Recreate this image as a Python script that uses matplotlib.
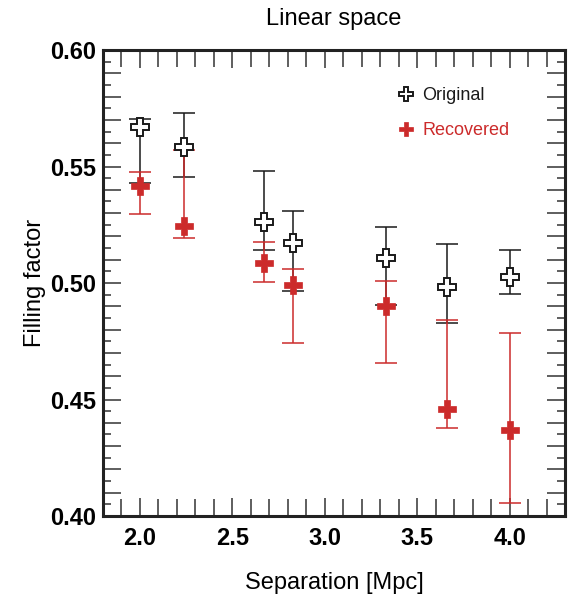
import numpy as np
import matplotlib
matplotlib.use('Agg')
from matplotlib import pyplot as plt
from matplotlib.ticker import MultipleLocator, FuncFormatter

plt.rcParams['font.family'] = ['Liberation Sans', 'DejaVu Sans']

# separations of the seven samples
separation = [2.0, 2.24, 2.67, 2.83, 3.33, 3.66, 4.0]

# original filling factor with lower / upper bar ends
orig_val = [0.567, 0.5585, 0.5263, 0.517, 0.5109, 0.4984, 0.5027]
orig_low = [0.543, 0.5454, 0.5142, 0.4966, 0.4906, 0.4830, 0.4951]
orig_high = [0.5704, 0.5731, 0.5482, 0.5310, 0.5242, 0.5166, 0.5140]

# recovered filling factor with lower / upper bar ends
rec_val = [0.5416, 0.5245, 0.5085, 0.4991, 0.4901, 0.4458, 0.4369]
rec_low = [0.5295, 0.5192, 0.5006, 0.4741, 0.4655, 0.4376, 0.4057]
rec_high = [0.5476, 0.5570, 0.5175, 0.5059, 0.5007, 0.4841, 0.4787]

red = '#cc2b2b'
black = '#1a1a1a'

fig = plt.figure(figsize=(5.75, 6.01), dpi=100)
ax = fig.add_axes([0.179, 0.1414, 0.804, 0.7754])

x = np.array(separation)
ov, ol, oh = np.array(orig_val), np.array(orig_low), np.array(orig_high)
rv, rl, rh = np.array(rec_val), np.array(rec_low), np.array(rec_high)

ax.errorbar(x, ov, yerr=[ov - ol, oh - ov], fmt='none', ecolor=black,
            elinewidth=1.1, capsize=8, capthick=1.1, zorder=2)
ax.errorbar(x, rv, yerr=[rv - rl, rh - rv], fmt='none', ecolor=red,
            elinewidth=1.1, capsize=8, capthick=1.1, zorder=3)

ax.plot(x, rv, ls='none', marker='P', ms=12.5, mfc=red, mec=red, mew=0.5,
        color=red, zorder=4, label='Recovered')
ax.plot(x, ov, ls='none', marker='P', ms=12.5, mfc='white', mec=black, mew=1.4,
        color=black, zorder=5, label='Original')

ax.set_xlim(1.8, 4.3)
ax.set_ylim(0.40, 0.60)

ax.xaxis.set_major_locator(MultipleLocator(0.5))
ax.xaxis.set_minor_locator(MultipleLocator(0.1))
ax.yaxis.set_major_locator(MultipleLocator(0.01))
ax.yaxis.set_minor_locator(MultipleLocator(0.005))
ax.xaxis.set_major_formatter(FuncFormatter(lambda v, p: '%.1f' % v))

def ylab(v, p):
    k = round(v * 100)
    return '%.2f' % v if k % 5 == 0 else ''

ax.yaxis.set_major_formatter(FuncFormatter(ylab))

ax.tick_params(which='both', direction='in', top=True, right=True, width=1.1, color='#333333')
ax.tick_params(which='major', length=13)
ax.tick_params(which='minor', length=6)
ax.tick_params(axis='x', which='minor', length=12)
ax.tick_params(axis='x', which='major', pad=8)
ax.tick_params(axis='y', which='major', pad=5)
for lab in ax.get_xticklabels() + ax.get_yticklabels():
    lab.set_fontweight('bold')
    lab.set_fontsize(17)

for s in ax.spines.values():
    s.set_linewidth(2.2)
    s.set_color('#222222')

ax.set_xlabel('Separation [Mpc]', fontsize=17, labelpad=16)
ax.set_ylabel('Filling factor', fontsize=17, labelpad=3)
ax.set_title('Linear space', fontsize=17, pad=18)

h, l = ax.get_legend_handles_labels()
leg = ax.legend(h[::-1], l[::-1], loc='upper right', bbox_to_anchor=(0.915, 0.955),
                frameon=False, fontsize=13, markerscale=0.75, handlelength=0.8,
                handletextpad=0.5, labelspacing=1.0)
leg.get_texts()[0].set_color(black)
leg.get_texts()[1].set_color(red)

fig.savefig('out.png', dpi=100)
